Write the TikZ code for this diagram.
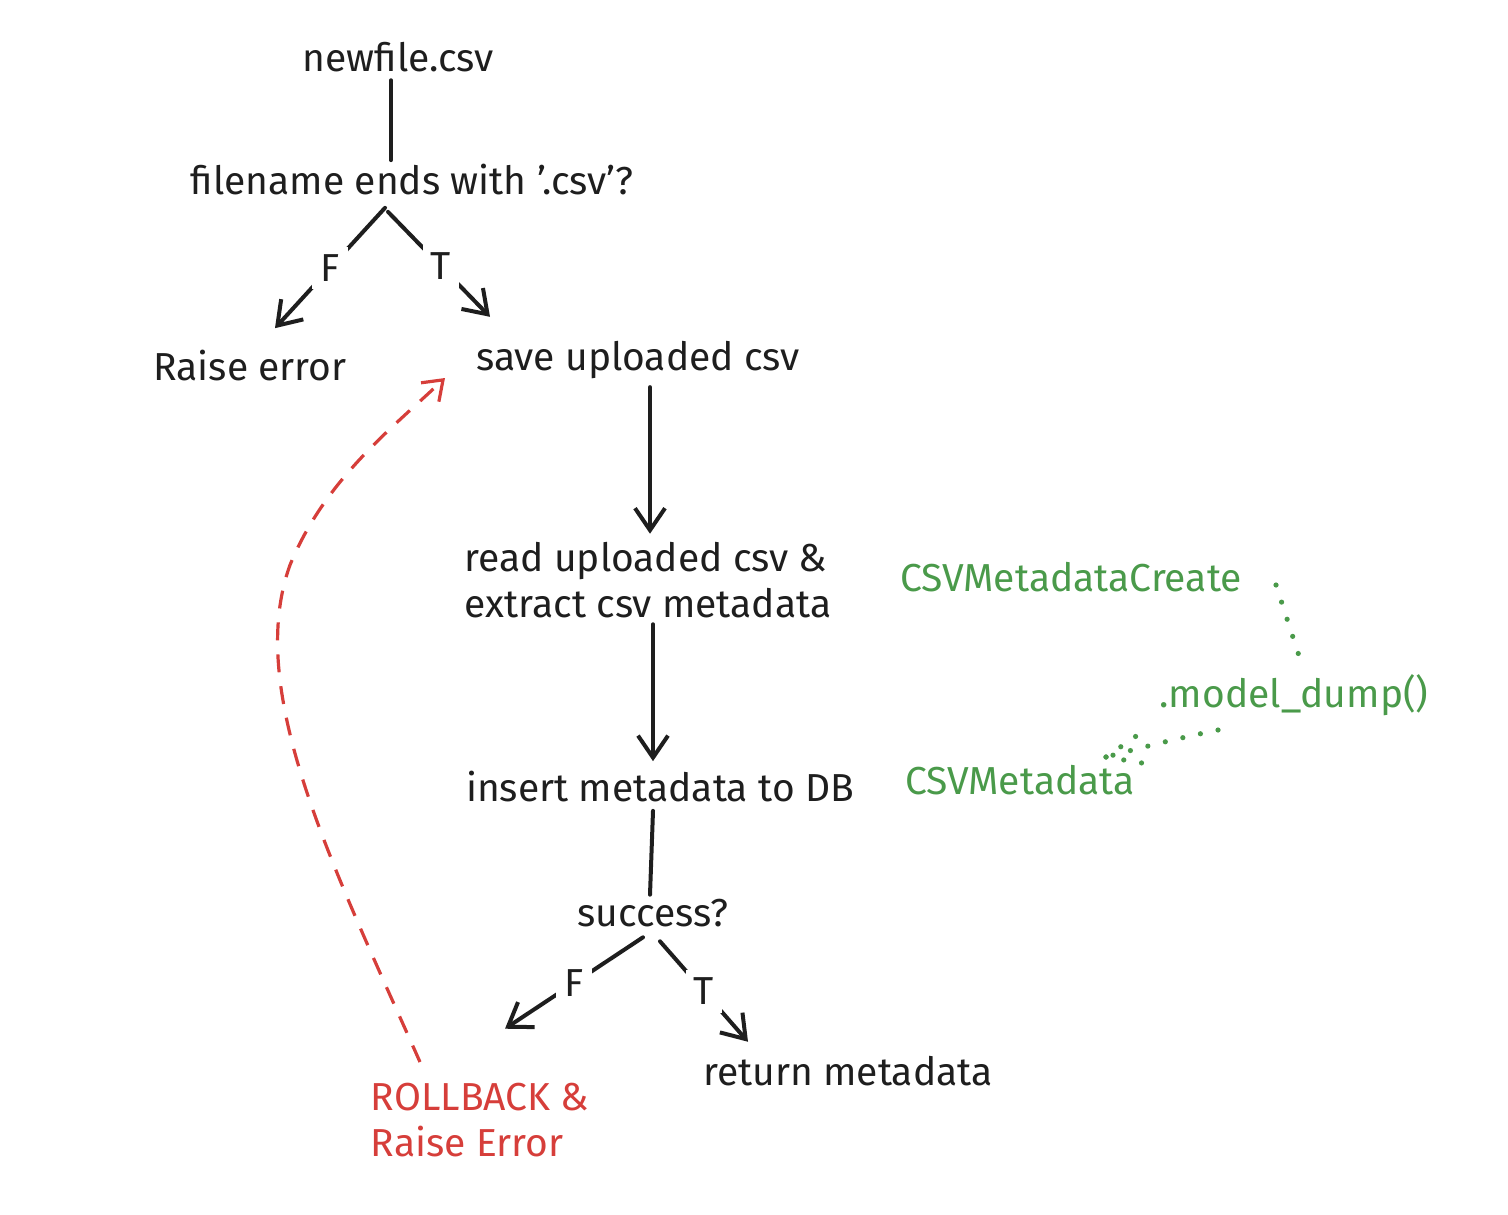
\documentclass[tikz,border=0pt]{standalone}
\usepackage{fontspec}
\setmainfont{Fira Sans}
\usetikzlibrary{arrows.meta,calc}
\definecolor{ink}{HTML}{1E1E1E}
\definecolor{redink}{HTML}{D63E3A}
\definecolor{greenink}{HTML}{4A9A4A}
\begin{document}
\begin{tikzpicture}[x=0.5pt,y=-0.5pt,
  txt/.style={font=\fontsize{19.5}{23}\selectfont, text=ink, inner sep=2pt},
  redtxt/.style={txt, text=redink, align=left},
  greentxt/.style={txt, text=greenink},
  conn/.style={draw=ink, line width=2pt, line cap=round},
  arr/.style={conn, -{Straight Barb[length=11pt,width=15pt,line width=2pt]}},
  lbl/.style={txt, fill=white, inner sep=4pt},
  redcurve/.style={draw=redink, line width=1.6pt, dash pattern=on 9pt off 7pt,
    -{Straight Barb[length=9pt,width=13pt,line width=1.6pt]}},
  greendots/.style={draw=greenink, line width=2.6pt, line cap=round, dash pattern=on 0pt off 9pt}]
\useasboundingbox (0,0) rectangle (1508,1214);

\node[txt] (newfile) at (398,57) {newfile.csv};
\node[txt] (dec1) at (412,180) {filename ends with '.csv'?};
\node[txt] (raise) at (250,366) {Raise error};
\node[txt] (save) at (638,360) {save uploaded csv};
\node[txt, align=left] (read) at (648,580) {read uploaded csv \&\\extract csv metadata};
\node[txt] (insert) at (660,787) {insert metadata to DB};
\node[txt] (success) at (653,913) {success?};
\node[redtxt] (rb) at (480,1120) {ROLLBACK \&\\Raise Error};
\node[txt] (ret) at (848,1071) {return metadata};
\node[greentxt] (cmc) at (1071,577) {CSVMetadataCreate};
\node[greentxt] (dump) at (1294,695) {.model\_dump()};
\node[greentxt] (cm) at (1020,780) {CSVMetadata};

% connectors
\draw[conn] (newfile.south -| 391,0) ++(0,4) -- (dec1.north -| 391,0);
\draw[arr] ($(dec1.south)+(-27,8)$) -- node[lbl, pos=0.5] {F} ($(raise.north)+(25,-18)$);
\draw[arr] ($(dec1.south)+(-24,12)$) -- node[lbl, pos=0.52] {T} ($(save.north)+(-148,-20)$);
\draw[arr] (save.south -| 650,0) ++(0,4) -- ($(read.north -| 650,0)+(0,-4)$);
\draw[arr] (read.south -| 653,0) ++(0,2) -- ($(insert.north -| 653,0)+(0,-6)$);
\draw[conn] (insert.south -| 653,0) ++(0,4) -- (success.north -| 650,0);
\draw[arr] ($(success.south)+(-10,6)$) -- node[lbl, pos=0.5] {F} ($(rb.north)+(25,-50)$);
\draw[arr] ($(success.south)+(7,10)$) -- node[lbl, pos=0.5] {T} ($(ret.north)+(-100,-10)$);

% rollback loop
\coordinate (rbstart) at (420,1062);
\coordinate (saveend) at (445,378);
\draw[redcurve] (rbstart) .. controls (330,860) and (245,690) .. (290,565)
  .. controls (325,480) and (390,430) .. (saveend);

% green dotted connector
\coordinate (g1) at (1276,585);
\coordinate (g2) at (1301,662);
\coordinate (g3) at (1218,730);
\coordinate (gtip) at (1106,757);
\draw[greendots] (g1) -- (g2);
\draw[greendots] (g3) .. controls (1170,740) and (1140,748) .. (gtip);
\draw[greendots] (gtip) -- (1142,732);
\draw[greendots] (gtip) -- (1148,764);
\end{tikzpicture}
\end{document}
